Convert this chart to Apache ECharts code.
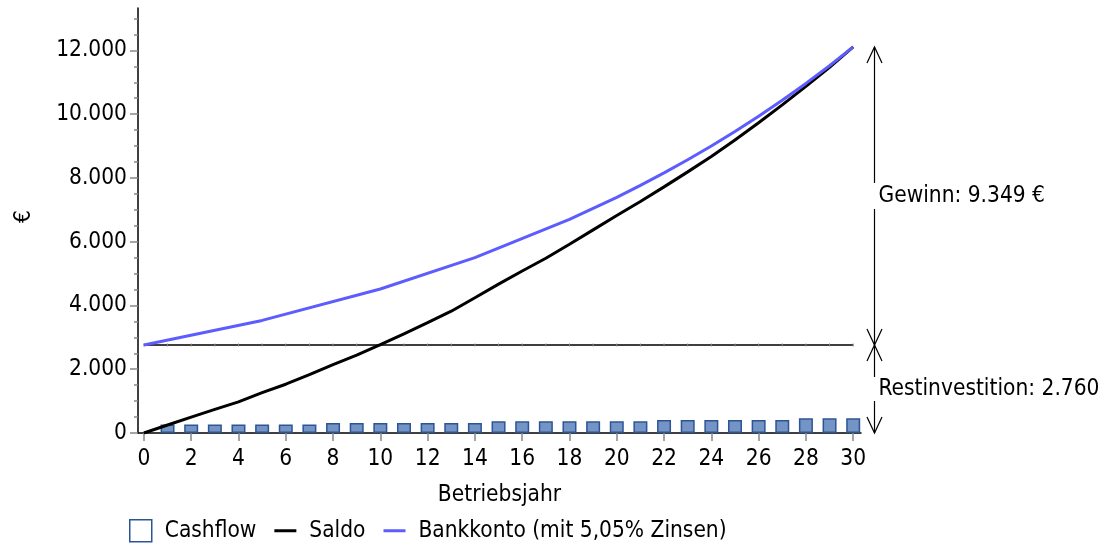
<!DOCTYPE html>
<html>
<head>
<meta charset="utf-8">
<script src="https://cdn.jsdelivr.net/npm/echarts@6/dist/echarts.min.js"></script>
<style>
html,body{margin:0;padding:0;background:#fff;}
#c{width:1105px;height:548px;}
</style>
</head>
<body>
<div id="c"></div>
<script>
// ---- data ----
const years = [0,1,2,3,4,5,6,7,8,9,10,11,12,13,14,15,16,17,18,19,20,21,22,23,24,25,26,27,28,29,30];
const cashflowYears = [1,2,3,4,5,6,7,8,9,10,11,12,13,14,15,16,17,18,19,20,21,22,23,24,25,26,27,28,29,30];
const cashflow = [265,265,265,265,265,265,265,310,310,310,310,310,310,310,365,365,365,365,365,365,365,410,410,410,410,410,410,460,460,460];
const saldo = [0,250,500,740,975,1265,1530,1830,2145,2440,2770,3110,3460,3820,4240,4670,5080,5480,5920,6370,6820,7260,7720,8190,8670,9190,9730,10290,10870,11470,12109];
const bankYears = [0,5,10,14,18,20,21,22,23,24,25,26,27,28,29,30];
const bankkonto = [2760,3531,4517,5501,6699,7393,7767,8159,8571,9004,9459,9936,10438,10965,11519,12109];
const restinvestition = 2760;
const gewinn = 9349;
const xTicks = [0,2,4,6,8,10,12,14,16,18,20,22,24,26,28,30];
const yMajorTicks = [0,2000,4000,6000,8000,10000,12000];
const yMinorTicks = [500,1000,1500,2500,3000,3500,4500,5000,5500,6500,7000,7500,8500,9000,9500,10500,11000,11500,12500,13000];
const seriesNames = ['Cashflow','Saldo','Bankkonto (mit 5,05% Zinsen)'];

const FONT = '"DejaVu Sans Condensed","DejaVu Sans",sans-serif';
const FS = 22.5;
const fmt = v => String(Math.round(v)).replace(/\B(?=(\d{3})+(?!\d))/g,'.');

const chart = echarts.init(document.getElementById('c'));
const yBase = {type:'value', min:0, max:13330, position:'left', offset:0, splitLine:{show:false}};
const option = {
  animation:false,
  textStyle:{fontFamily:FONT},
  grid:{left:138, top:8, width:723, height:425, containLabel:false, outerBoundsMode:'none'},
  xAxis:{
    type:'value', min:-0.25, max:30.33,
    name:'Betriebsjahr', nameLocation:'middle', nameGap:51,
    nameTextStyle:{fontFamily:FONT,fontSize:FS,color:'#000'},
    axisLine:{show:true,onZero:false,lineStyle:{color:'#000',width:1.5}},
    axisTick:{show:true,customValues:xTicks,length:8,lineStyle:{color:'#888',width:1.5}},
    axisLabel:{customValues:xTicks,fontFamily:FONT,fontSize:FS,color:'#000',margin:15},
    splitLine:{show:false}
  },
  yAxis:[
    Object.assign({}, yBase, {
      name:'€', nameLocation:'middle', nameGap:102, nameRotate:90,
      nameTextStyle:{fontFamily:FONT,fontSize:FS,color:'#000',padding:[0,0,0,8]},
      axisLine:{show:true,onZero:false,lineStyle:{color:'#000',width:1.5}},
      axisTick:{show:true,customValues:yMajorTicks,length:8,lineStyle:{color:'#888',width:1.5}},
      axisLabel:{customValues:yMajorTicks,fontFamily:FONT,fontSize:FS,color:'#000',margin:11,formatter:fmt}
    }),
    Object.assign({}, yBase, {
      axisLine:{show:false,onZero:false},
      axisTick:{show:true,customValues:yMinorTicks,length:4,lineStyle:{color:'#888',width:1.5}},
      axisLabel:{show:false}
    })
  ],
  legend:{
    left:124, top:514, itemWidth:22, itemGap:18, itemHeight:22,
    textStyle:{fontFamily:FONT,fontSize:FS,color:'#000',padding:[0,0,0,8]},
    data:[
      {name:seriesNames[0], icon:'rect', itemStyle:{color:'#fff',borderColor:'#2c5596',borderWidth:1.5}},
      {name:seriesNames[1], icon:'path://M0,0H22V3H0Z', itemStyle:{color:'#000'}},
      {name:seriesNames[2], icon:'path://M0,0H22V3H0Z', itemStyle:{color:'#5c5cff'}}
    ]
  },
  series:[
    {
      name:seriesNames[0], type:'bar', barWidth:14,
      data:cashflowYears.map((y,i)=>[y,cashflow[i]]),
      itemStyle:{color:'#7394c5',borderColor:'#2c5596',borderWidth:1.5},
      z:2
    },
    {
      name:'rest', type:'line', symbol:'rect', symbolSize:[1,3],
      data:years.map(y=>[y,restinvestition]),
      lineStyle:{color:'#000',width:1.5},
      itemStyle:{color:'#888'},
      silent:true, z:3
    },
    {
      name:seriesNames[1], type:'line', symbol:'none',
      data:years.map((y,i)=>[y,saldo[i]]),
      lineStyle:{color:'#000',width:3}, itemStyle:{color:'#000'}, z:4
    },
    {
      name:seriesNames[2], type:'line', symbol:'none',
      data:bankYears.map((y,i)=>[y,bankkonto[i]]),
      lineStyle:{color:'#5c5cff',width:3}, itemStyle:{color:'#5c5cff'}, z:5
    }
  ]
};
chart.setOption(option);

// ---- annotation (dimension arrows) computed from axis scale ----
const p = v => chart.convertToPixel({gridIndex:0},[30,v]);
const xa = Math.round(p(0)[0] + 21) + 0.5;
const yTop = p(restinvestition+gewinn)[1];
const yMid = p(restinvestition)[1];
const yBot = p(0)[1];
const yG = (yTop+yMid)/2, yR = (yMid+yBot)/2;
const AL = 16, AW = 7.5;
const ls = {stroke:'#000', lineWidth:1.2, fill:null};
const seg = (y1,y2)=>({type:'line',shape:{x1:xa,y1:y1,x2:xa,y2:y2},style:ls,silent:true});
const head = (y,dir)=>({type:'polyline',shape:{points:[[xa-AW,y+dir*AL],[xa,y],[xa+AW,y+dir*AL]]},style:ls,silent:true});
chart.setOption({graphic:[
  seg(yTop,yG-13), seg(yG+13,yMid),
  seg(yMid,yR-12), seg(yR+12,yBot),
  head(yTop,1), head(yMid,-1), head(yMid,1), head(yBot,-1),
  {type:'text',left:xa+4,top:yG-11,style:{text:'Gewinn: '+fmt(gewinn)+' €',font:FS+'px '+FONT,fill:'#000'},silent:true},
  {type:'text',left:xa+4,top:yR-11,style:{text:'Restinvestition: '+fmt(restinvestition)+' €',font:FS+'px '+FONT,fill:'#000'},silent:true}
]});
</script>
</body>
</html>
